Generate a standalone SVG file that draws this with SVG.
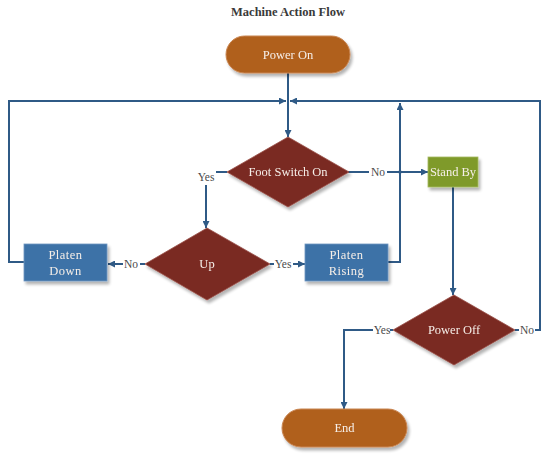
<svg xmlns="http://www.w3.org/2000/svg" width="550" height="460" viewBox="0 0 550 460">
<defs>
<marker id="ah" viewBox="0 0 10 10" refX="10" refY="5" markerWidth="7" markerHeight="7" markerUnits="userSpaceOnUse" orient="auto"><path d="M0,0 L10,5 L0,10 z" fill="#2f5a86"/></marker>
<filter id="sh" x="-20%" y="-20%" width="150%" height="160%"><feGaussianBlur in="SourceAlpha" stdDeviation="1.5"/><feOffset dx="2" dy="3" result="b"/><feComponentTransfer><feFuncA type="linear" slope="0.3"/></feComponentTransfer><feMerge><feMergeNode/><feMergeNode in="SourceGraphic"/></feMerge></filter>
</defs>
<style>
.t{font-family:"Liberation Serif","Times New Roman",serif;font-size:12.5px;fill:#f6efe8;text-anchor:middle}
.lb{font-family:"Liberation Serif","Times New Roman",serif;font-size:11.5px;fill:#4a4a4a;text-anchor:middle}
.c{fill:none;stroke:#2f5a86;stroke-width:2}
.pill{fill:#b0601f;stroke:#c98550;stroke-width:1}
.dia{fill:#7a2a24;stroke:#9a5048;stroke-width:0.8}
.box{fill:#3e72a7;stroke:#6f97c0;stroke-width:0.8}
.grn{fill:#7f9a2b;stroke:#a6bb60;stroke-width:0.8}
</style>
<rect width="550" height="460" fill="#fff"/>
<text x="288" y="16" font-family="Liberation Serif,serif" font-size="12.5" font-weight="bold" fill="#3a3a3a" text-anchor="middle">Machine Action Flow</text>
<g id="connectors">
<path class="c" d="M288,73 V137" marker-end="url(#ah)"/>
<path class="c" d="M24,262 H9 V101 H286" marker-end="url(#ah)"/>
<path class="c" d="M535,330 H540 V101 H290" marker-end="url(#ah)"/>
<path class="c" d="M388,262 H400 V103" marker-end="url(#ah)"/>
<path class="c" d="M227,172 H216"/>
<path class="c" d="M206,185 V228" marker-end="url(#ah)"/>
<path class="c" d="M348,172 H369"/>
<path class="c" d="M387,172 H428" marker-end="url(#ah)"/>
<circle cx="400" cy="172" r="1.8" fill="#2f5a86"/>
<path class="c" d="M145,264 H140"/>
<path class="c" d="M123,264 H108" marker-end="url(#ah)"/>
<path class="c" d="M270,264 H274"/>
<path class="c" d="M293,264 H305" marker-end="url(#ah)"/>
<path class="c" d="M453,187 V295" marker-end="url(#ah)"/>
<path class="c" d="M393,330 H390"/>
<path class="c" d="M373,330 H344 V409" marker-end="url(#ah)"/>
<path class="c" d="M515,330 H519"/>
<text class="lb" x="206" y="181">Yes</text>
<text class="lb" x="378" y="176">No</text>
<text class="lb" x="131" y="268">No</text>
<text class="lb" x="283" y="268">Yes</text>
<text class="lb" x="382" y="334">Yes</text>
<text class="lb" x="527" y="334">No</text>
</g>
<g id="power-on" filter="url(#sh)"><rect class="pill" x="226" y="36" width="124" height="37" rx="18.5"/><text class="t" x="288" y="59">Power On</text></g>
<g id="foot-switch" filter="url(#sh)"><polygon class="dia" points="288,137 349,172 288,207 227,172"/><text class="t" x="288" y="176">Foot Switch On</text></g>
<g id="stand-by" filter="url(#sh)"><rect class="grn" x="428" y="157" width="50" height="30"/><text class="t" x="453" y="176">Stand By</text></g>
<g id="up" filter="url(#sh)"><polygon class="dia" points="207,228 270,264 207,300 145,264"/><text class="t" x="207" y="268">Up</text></g>
<g id="platen-down" filter="url(#sh)"><rect class="box" x="24" y="244" width="83" height="37"/><text class="t" x="65.5" y="259" letter-spacing="0.5">Platen</text><text class="t" x="65.5" y="275" letter-spacing="0.5">Down</text></g>
<g id="platen-rising" filter="url(#sh)"><rect class="box" x="305" y="244" width="83" height="37"/><text class="t" x="346.5" y="259" letter-spacing="0.5">Platen</text><text class="t" x="346.5" y="275" letter-spacing="0.5">Rising</text></g>
<g id="power-off" filter="url(#sh)"><polygon class="dia" points="454,295 515,330 454,365 393,330"/><text class="t" x="454" y="334">Power Off</text></g>
<g id="end" filter="url(#sh)"><rect class="pill" x="282" y="409" width="125" height="38" rx="19"/><text class="t" x="344.5" y="432">End</text></g>
</svg>
